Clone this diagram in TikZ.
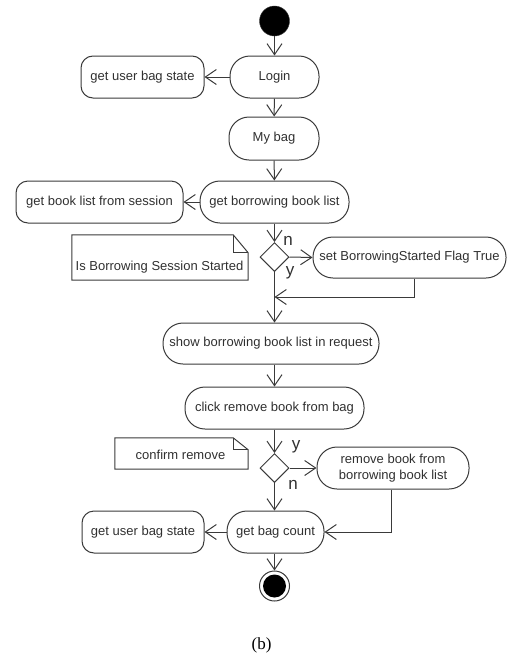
\documentclass[tikz,border=0pt]{standalone}
\usepackage{fontspec}
\setmainfont{Liberation Sans}
\newfontfamily\capfont{Liberation Serif}
\usetikzlibrary{arrows.meta,shapes.geometric,calc}
\definecolor{lc}{HTML}{3A3A3A}
\definecolor{tc}{HTML}{303030}
\begin{document}
\begin{tikzpicture}[x=1pt,y=-1pt,
  every node/.style={text=tc, font=\fontsize{13}{16}\selectfont},
  act/.style={draw=lc, line width=1pt, rounded corners=20pt, minimum height=42pt, inner sep=0pt, align=center},
  side/.style={draw=lc, line width=1pt, rounded corners=12pt, minimum height=42pt, inner sep=0pt, align=center},
  dec/.style={draw=lc, line width=1pt, diamond, aspect=1, minimum width=29pt, minimum height=29pt, inner sep=0pt},
  flow/.style={draw=lc, line width=1pt, -{Straight Barb[length=11pt,width=15pt,line width=1pt]}},
  plain/.style={draw=lc, line width=1pt},
  guard/.style={font=\fontsize{17}{17}\selectfont, inner sep=0pt},
  notebox/.style={draw=none, inner sep=0pt}
]
\useasboundingbox (0,0) rectangle (507,659);

% start
\node[circle, fill=black, draw=lc, minimum size=30pt, inner sep=0pt] (start) at (274.5,21) {};

\node[act, minimum width=89pt] (login) at (274.5,77) {Login};
\node[side, minimum width=123pt] (gus1) at (142.5,77) {get user bag state};
\node[act, minimum width=90pt, minimum height=43pt] (mybag) at (274,138.5) {My bag};
\node[act, minimum width=149pt] (gbbl) at (274.5,202) {get borrowing book list};
\node[side, minimum width=167pt] (gbls) at (99.5,202) {get book list from session};
\node[dec] (d1) at (274.5,257) {};
\node[act, minimum width=193pt, minimum height=41pt] (setflag) at (409.5,257.5) {set BorrowingStarted Flag True};
\coordinate (merge) at (274.5,297);
\node[act, minimum width=216pt, minimum height=41pt] (show) at (271,343.5) {show borrowing book list in request};
\node[act, minimum width=179pt] (click) at (274.5,408) {click remove book from bag};
\node[dec] (d2) at (274.5,468) {};
\node[act, minimum width=152pt, minimum height=42pt] (remove) at (393,468) {remove book from\\borrowing book list};
\node[act, minimum width=97pt] (gbc) at (275.5,532) {get bag count};
\node[side, minimum width=122pt] (gus2) at (143,532) {get user bag state};
\node[circle, draw=lc, line width=1pt, minimum size=30pt, inner sep=0pt] (end) at (274.5,586) {};
\fill[black] (end.center) circle (11.5pt);

% notes
\node[notebox, minimum width=176pt, minimum height=45pt] (note1) at (160,257.5) {};
\node[inner sep=0pt] (note1t) at (159.5,267) {Is Borrowing Session Started};
\draw[plain] (note1.south west) -- (note1.north west) -- ($(note1.north east)+(-15,0)$) -- ($(note1.north east)+(0,18)$) -- (note1.south east) -- cycle;
\draw[plain] ($(note1.north east)+(-15,0)$) -- ($(note1.north east)+(-15,18)$) -- ($(note1.north east)+(0,18)$);

\node[notebox, minimum width=133pt, minimum height=31pt] (note2) at (181.5,453.5) {};
\node[inner sep=0pt] (note2t) at (180.5,455) {confirm remove};
\draw[plain] (note2.south west) -- (note2.north west) -- ($(note2.north east)+(-15,0)$) -- ($(note2.north east)+(0,12)$) -- (note2.south east) -- cycle;
\draw[plain] ($(note2.north east)+(-15,0)$) -- ($(note2.north east)+(-15,12)$) -- ($(note2.north east)+(0,12)$);

% connectors
\draw[flow] (start) -- (login);
\draw[flow] (login) -- (gus1);
\draw[flow] (login) -- (mybag);
\draw[flow] (mybag) -- (gbbl);
\draw[flow] (gbbl) -- (gbls);
\draw[flow] (gbbl) -- (d1);
\draw[flow] (d1.east) -- (setflag.west);
\draw[flow] (d1.south) -- (d1.south |- show.north);
\draw[flow] ([xshift=4.5pt]setflag.south) |- (merge);
\draw[flow] (show.south -| click.north) -- (click);
\draw[flow] (click) -- (d2);
\draw[flow] (d2.east) -- (remove.west);
\draw[flow] (d2.south) -- (gbc.north -| d2.south);
\draw[flow] ([xshift=-2pt]remove.south) |- (gbc.east);
\draw[flow] (gbc) -- (gus2);
\draw[flow] (gbc.south -| end.north) -- (end);

% guard labels
\node[guard] (ln1) at (288,241) {n};
\node[guard] (ly1) at (290,273) {y};
\node[guard] (ly2) at (296,447) {y};
\node[guard] (ln2) at (293,485) {n};

% caption
\node[font=\capfont\fontsize{17}{17}\selectfont, text=black] (cap) at (261.5,645) {(b)};
\end{tikzpicture}
\end{document}
